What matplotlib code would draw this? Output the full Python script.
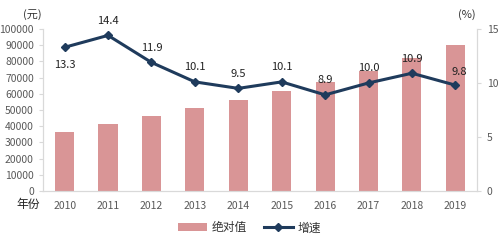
import matplotlib.pyplot as plt
import numpy as np

plt.rcParams['font.family'] = ['Noto Sans CJK SC', 'DejaVu Sans']

# data
years = ["2010", "2011", "2012", "2013", "2014", "2015", "2016", "2017", "2018", "2019"]
absolute = [36200, 41400, 46300, 51000, 56200, 61700, 67300, 74300, 82300, 90100]
growth = [13.3, 14.4, 11.9, 10.1, 9.5, 10.1, 8.9, 10.0, 10.9, 9.8]

bar_color = "#d99596"
line_color = "#1f3b5c"
tick_color = "#595959"

fig = plt.figure(figsize=(4.99, 2.45), dpi=100)
ax = fig.add_axes([0.086, 0.22, 0.87, 0.662])
ax2 = ax.twinx()

x = np.arange(len(years))
ax.bar(x, absolute, width=0.44, color=bar_color, label="绝对值", zorder=2)
ax.set_ylim(0, 100000)
ax.set_yticks(range(0, 100001, 10000))
ax.set_xlim(-0.5, len(years) - 0.5)
ax.set_xticks(x)
ax.set_xticklabels(years)

ax2.plot(x, growth, color=line_color, lw=2.2, marker="D", ms=4, label="增速", zorder=3)
ax2.set_ylim(0, 15)
ax2.set_yticks([0, 5, 10, 15])

# value labels on the growth line
for i, v in enumerate(growth):
    if i == 0:
        ax2.annotate(f"{v:.1f}", (i, v), xytext=(0, -9), textcoords="offset points",
                     ha="center", va="top", fontsize=8, color="#222222")
    elif i == len(growth) - 1:
        ax2.annotate(f"{v:.1f}", (i, v), xytext=(3, 6), textcoords="offset points",
                     ha="center", va="bottom", fontsize=8, color="#222222")
    else:
        ax2.annotate(f"{v:.1f}", (i, v), xytext=(0, 7), textcoords="offset points",
                     ha="center", va="bottom", fontsize=8, color="#222222")

for a in (ax, ax2):
    for s in a.spines.values():
        s.set_color("#d9d9d9")
    a.spines["top"].set_visible(False)
    a.tick_params(labelsize=7.5, colors=tick_color, length=3, color="#d9d9d9")
ax.tick_params(axis="x", length=0, pad=7)
ax2.tick_params(axis="y", pad=4)

fig.text(0.057, 0.167, "年份", fontsize=8.5, color="#222222", ha="center", va="center")
fig.text(0.065, 0.94, "(元)", fontsize=8, color="#333333", ha="center", va="center")
fig.text(0.935, 0.94, "(%)", fontsize=8, color="#333333", ha="center", va="center")

h1, l1 = ax.get_legend_handles_labels()
h2, l2 = ax2.get_legend_handles_labels()
fig.legend(h1 + h2, l1 + l2, loc="center", bbox_to_anchor=(0.5, 0.07), ncol=2,
           frameon=False, fontsize=8.5, handlelength=2.4, columnspacing=1.5,
           handleheight=0.6, handletextpad=0.4, labelcolor="#333333")

fig.savefig("out.png", dpi=100)
